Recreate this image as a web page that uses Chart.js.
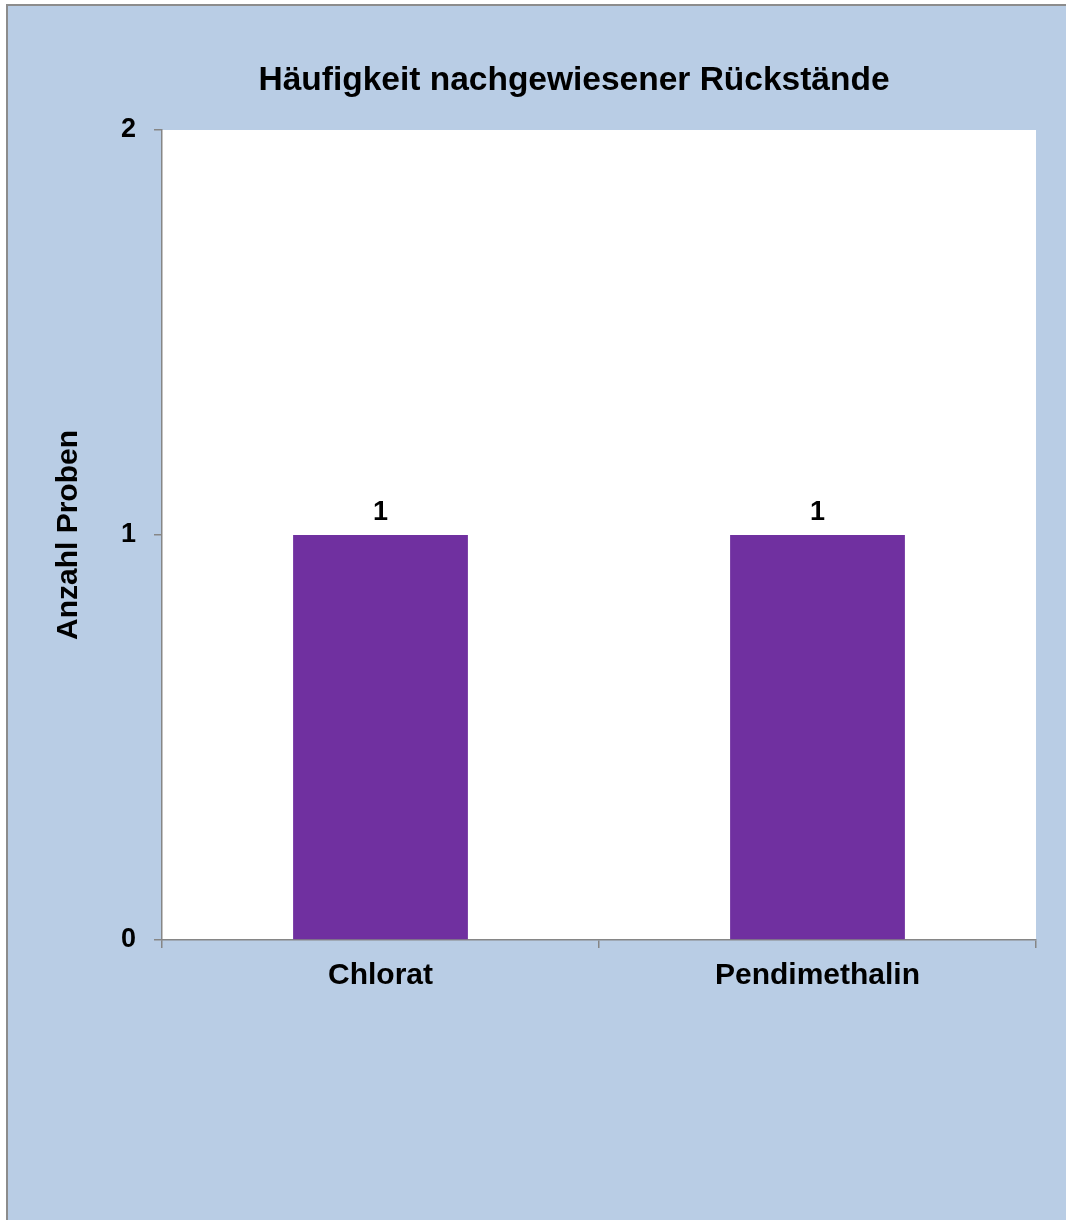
<!DOCTYPE html>
<html>
<head>
<meta charset="utf-8">
<script src="https://cdn.jsdelivr.net/npm/chart.js@4"></script>
<style>
  html, body { margin: 0; padding: 0; background: #fff; }
  #wrap { width: 1066px; height: 1220px; }
</style>
</head>
<body>
<div id="wrap"><canvas id="myChart"></canvas></div>
<script>
/*---------------------------- data ------------------------------------*/
var xValues = ["Chlorat", "Pendimethalin"];
var yValues = [1, 1];
var yTicks = [0, 1, 2];
var chartTitle = "Häufigkeit nachgewiesener Rückstände";
var yTitle = "Anzahl Proben";

var FONT = "'Liberation Sans', Arial, sans-serif";
var gray = "#868686";

// light blue frame + white plot area
var backdrop = {
  id: "backdrop",
  beforeDraw: function (chart) {
    var ctx = chart.ctx, a = chart.chartArea;
    ctx.save();
    ctx.fillStyle = "#B9CDE5";
    ctx.fillRect(6, 4, chart.width - 6, chart.height - 4);
    ctx.fillStyle = "#8c8c8c";
    ctx.fillRect(6, 4, chart.width - 6, 2);
    ctx.fillRect(6, 4, 2, chart.height - 4);
    ctx.fillStyle = "#ffffff";
    ctx.fillRect(a.left, a.top, a.right - a.left, a.bottom - a.top);
    ctx.restore();
  }
};

// title + value labels above the bars
var labels = {
  id: "labels",
  afterDatasetsDraw: function (chart) {
    var ctx = chart.ctx;
    ctx.save();
    ctx.fillStyle = "#000";
    ctx.textAlign = "center";
    ctx.textBaseline = "middle";
    ctx.font = "bold 33.5px " + FONT;
    ctx.fillText(chartTitle, 574, 81);
    ctx.font = "bold 27px " + FONT;
    chart.getDatasetMeta(0).data.forEach(function (bar, i) {
      ctx.fillText(String(yValues[i]), bar.x, bar.y - 22);
    });
    ctx.restore();
  }
};

new Chart("myChart", {
  type: "bar",
  data: {
    labels: xValues,
    datasets: [{
      data: yValues,
      backgroundColor: "#7030A0",
      barPercentage: 0.4,
      categoryPercentage: 1.0
    }]
  },
  options: {
    responsive: true,
    maintainAspectRatio: false,
    animation: false,
    layout: { padding: { left: 8, right: 30, top: 130, bottom: 0 } },
    plugins: {
      legend: { display: false },
      title: { display: false },
      tooltip: { enabled: false }
    },
    scales: {
      x: {
        offset: true,
        grid: { offset: true, drawOnChartArea: false, color: gray, tickLength: 8, lineWidth: 1.5 },
        border: { color: gray, width: 1.5 },
        ticks: { color: "#000", padding: 10, font: { family: FONT, size: 30, weight: "bold" } },
        afterFit: function (s) { s.height = 280; }
      },
      y: {
        min: 0,
        max: 2,
        afterBuildTicks: function (s) { s.ticks = yTicks.map(function (v) { return { value: v }; }); },
        grid: { drawOnChartArea: false, color: gray, tickLength: 8, lineWidth: 1.5 },
        border: { color: gray, width: 1.5 },
        ticks: { color: "#000", padding: 18, font: { family: FONT, size: 27, weight: "bold" } },
        title: {
          display: true,
          text: yTitle,
          color: "#000",
          padding: { top: 43, bottom: 0 },
          font: { family: FONT, size: 30, weight: "bold" }
        },
        afterFit: function (s) { s.width = 154; }
      }
    }
  },
  plugins: [backdrop, labels]
});
</script>
</body>
</html>
